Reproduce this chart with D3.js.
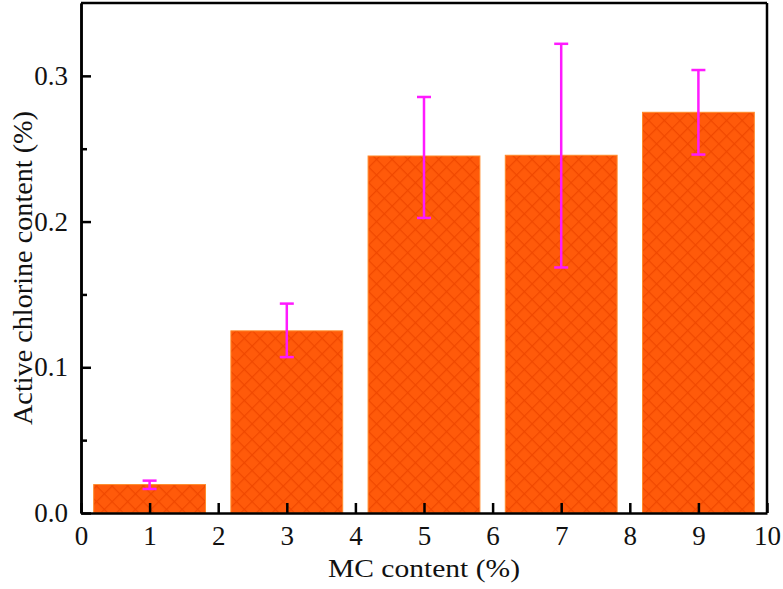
<!DOCTYPE html>
<html>
<head>
<meta charset="utf-8">
<script src="https://cdn.jsdelivr.net/npm/d3@7"></script>
<style>
  body { margin: 0; background: #fff; }
  svg { display: block; }
  text { font-family: "Liberation Serif", "DejaVu Serif", serif; fill: #111; }
  .axis text { font-size: 27px; }
</style>
</head>
<body>
<div id="chart"></div>
<script>
// MC content (%) and measured active chlorine content (%)
const mcContent = [1, 3, 5, 7, 9];
const chlorine = [0.0195, 0.125, 0.245, 0.2455, 0.275];
const errLow = [0.0165, 0.107, 0.2025, 0.1685, 0.246];
const errHigh = [0.0222, 0.1437, 0.2855, 0.322, 0.304];
const xTicks = [0, 1, 2, 3, 4, 5, 6, 7, 8, 9, 10];
const yTicks = [0.0, 0.1, 0.2, 0.3];
const yMinor = [0.05, 0.15, 0.25];

const W = 783, H = 589;
const margin = {top: 3, right: 16, bottom: 76, left: 81};
const width = W - margin.left - margin.right;
const height = H - margin.top - margin.bottom;

const svg = d3.select("#chart").append("svg")
    .attr("width", W)
    .attr("height", H);

// crosshatch pattern for the bars
const defs = svg.append("defs");
const pat = defs.append("pattern")
    .attr("id", "hatch")
    .attr("patternUnits", "userSpaceOnUse")
    .attr("width", 11)
    .attr("height", 11)
    .attr("patternTransform", "rotate(45)");
pat.append("rect").attr("width", 11).attr("height", 11).attr("fill", "#ff5a0a");
pat.append("line").attr("x1", 0).attr("y1", 0).attr("x2", 0).attr("y2", 11)
    .attr("stroke", "#f04800").attr("stroke-width", 2.5);
pat.append("line").attr("x1", 0).attr("y1", 0).attr("x2", 11).attr("y2", 0)
    .attr("stroke", "#f04800").attr("stroke-width", 2.5);

const g = svg.append("g")
    .attr("transform", `translate(${margin.left},${margin.top})`);

const x = d3.scaleLinear().domain([0, 10]).range([0, width]);
const y = d3.scaleLinear().domain([0, 0.35]).range([height, 0]);

const barW = x(1.63) - x(0);

// bars
g.selectAll(".bar")
    .data(mcContent)
    .enter()
    .append("rect")
    .attr("class", "bar")
    .attr("x", d => x(d) - barW / 2)
    .attr("y", (d, i) => y(chlorine[i]))
    .attr("width", barW)
    .attr("height", (d, i) => height - y(chlorine[i]))
    .attr("fill", "url(#hatch)")
    .attr("stroke", "#ff8a2a")
    .attr("stroke-width", 1);

// error bars
const errColor = "#ff1aff";
const cap = 7;
const eb = g.selectAll(".err")
    .data(mcContent)
    .enter()
    .append("g")
    .attr("class", "err")
    .attr("stroke", errColor)
    .attr("stroke-width", 2.5);
eb.append("line")
    .attr("x1", d => x(d)).attr("x2", d => x(d))
    .attr("y1", (d, i) => y(errLow[i]))
    .attr("y2", (d, i) => y(errHigh[i]));
eb.append("line")
    .attr("x1", d => x(d) - cap).attr("x2", d => x(d) + cap)
    .attr("y1", (d, i) => y(errHigh[i]))
    .attr("y2", (d, i) => y(errHigh[i]));
eb.append("line")
    .attr("x1", d => x(d) - cap).attr("x2", d => x(d) + cap)
    .attr("y1", (d, i) => y(errLow[i]))
    .attr("y2", (d, i) => y(errLow[i]));

// axes (ticks pointing inward)
g.append("g")
    .attr("class", "axis")
    .attr("transform", `translate(0,${height})`)
    .call(d3.axisBottom(x).tickValues(xTicks).tickFormat(d3.format("d"))
        .tickSizeInner(-10).tickSizeOuter(0).tickPadding(13))
    .attr("font-size", 27)
    .attr("font-family", "Liberation Serif");
g.append("g")
    .attr("class", "axis")
    .call(d3.axisLeft(y).tickValues(yTicks).tickFormat(d3.format(".1f"))
        .tickSizeInner(-10).tickSizeOuter(0).tickPadding(13))
    .attr("font-size", 27)
    .attr("font-family", "Liberation Serif");
g.append("g")
    .call(d3.axisLeft(y).tickValues(yMinor).tickFormat("")
        .tickSizeInner(-6).tickSizeOuter(0));

g.selectAll(".domain").attr("stroke", "#000").attr("stroke-width", 2.5);
g.selectAll(".tick line").attr("stroke", "#000").attr("stroke-width", 2.5);
g.selectAll(".axis .tick text").attr("fill", "#111");

// top and right frame
g.append("line")
    .attr("x1", 0).attr("x2", width).attr("y1", 0).attr("y2", 0)
    .attr("stroke", "#000").attr("stroke-width", 2.5);
g.append("line")
    .attr("x1", width).attr("x2", width).attr("y1", 0).attr("y2", height)
    .attr("stroke", "#000").attr("stroke-width", 2.5);

// axis titles
svg.append("text")
    .attr("x", 424)
    .attr("y", 577)
    .attr("text-anchor", "middle")
    .attr("textLength", 192)
    .attr("lengthAdjust", "spacingAndGlyphs")
    .style("font-size", "26px")
    .text("MC content (%)");

svg.append("text")
    .attr("transform", "rotate(-90)")
    .attr("x", -268)
    .attr("y", 32)
    .attr("text-anchor", "middle")
    .attr("textLength", 314)
    .attr("lengthAdjust", "spacingAndGlyphs")
    .style("font-size", "27px")
    .text("Active chlorine content (%)");
</script>
</body>
</html>
